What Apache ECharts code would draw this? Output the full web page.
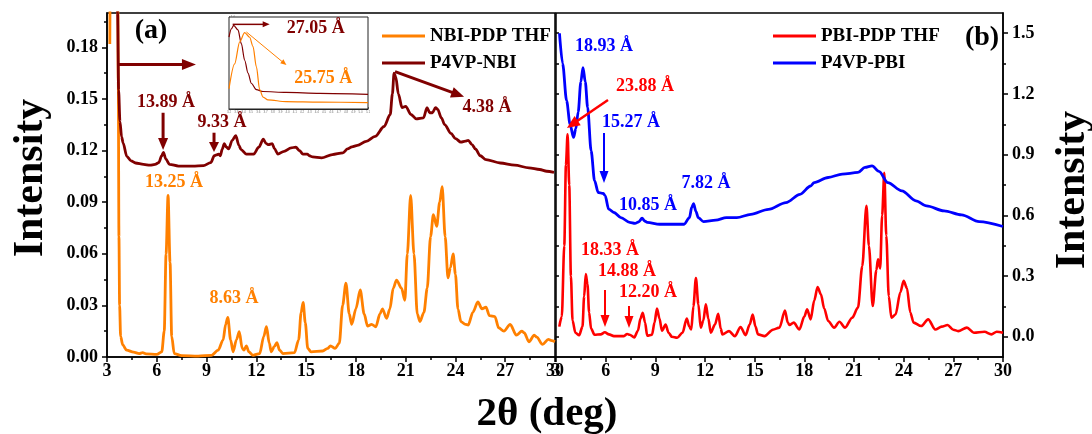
<!DOCTYPE html>
<html>
<head>
<meta charset="utf-8">
<script src="https://cdn.jsdelivr.net/npm/echarts@6/dist/echarts.min.js"></script>
<style>
  html, body { margin: 0; padding: 0; background: #fff; }
  #chart { width: 1092px; height: 434px; }
</style>
</head>
<body>
<div id="chart"></div>
<script>
// ---- Tick labels ----
const xTicks = [3, 6, 9, 12, 15, 18, 21, 24, 27, 30];
const leftYTicks = [0, 0.03, 0.06, 0.09, 0.12, 0.15, 0.18];
const leftYMinor = [0.015, 0.045, 0.075, 0.105, 0.135, 0.165, 0.195];
const rightYTicks = [0, 0.3, 0.6, 0.9, 1.2, 1.5];
const rightYMinor = [0.15, 0.45, 0.75, 1.05, 1.35];
const rightYMirror = [0, 0.15, 0.3, 0.45, 0.6, 0.75, 0.9, 1.05, 1.2, 1.35, 1.5];
const insetYTicks = [0, 0.1, 0.2, 0.3, 0.4, 0.5, 0.6, 0.7, 0.8, 0.9, 1.0];

// ---- Series values: [2θ (deg), intensity] ----
const nbiPdpThf = [
  [3.17,0.182],[3.25,0.30],[3.45,0.45],[3.62,0.30],[3.68,0.16],[3.72,0.07],[3.76,0.03],[3.82,0.012],
  [3.95,0.007],[4.18,0.004],[4.6,0.0028],[4.94,0.002],[5.15,0.0025],[5.35,0.0018],[6.0,0.0015],
  [6.3,0.003],[6.45,0.015],[6.56,0.06],[6.68,0.094],[6.8,0.055],[6.9,0.012],[7.05,0.002],[7.5,0.0008],
  [8.5,0.0005],[9.3,0.001],[9.7,0.004],[10.0,0.01],[10.15,0.019],[10.28,0.023],[10.45,0.01],[10.6,0.003],
  [10.8,0.01],[10.97,0.0147],[11.15,0.005],[11.25,0.004],[11.4,0.0065],[11.55,0.003],[11.8,0.001],
  [12.2,0.002],[12.45,0.012],[12.61,0.0176],[12.78,0.008],[12.9,0.003],[13.08,0.006],[13.24,0.0084],
  [13.4,0.004],[13.6,0.002],[14.3,0.0025],[14.55,0.01],[14.7,0.026],[14.82,0.0318],[14.95,0.02],
  [15.1,0.005],[15.3,0.003],[16.0,0.0035],[16.3,0.005],[16.47,0.0065],[16.75,0.005],[17.0,0.008],
  [17.2,0.03],[17.4,0.043],[17.6,0.025],[17.75,0.019],[18.0,0.028],[18.26,0.039],[18.5,0.025],
  [18.7,0.018],[18.95,0.019],[19.2,0.0176],[19.45,0.025],[19.6,0.028],[19.85,0.0225],[20.05,0.028],
  [20.25,0.04],[20.45,0.0447],[20.75,0.04],[20.95,0.033],[21.1,0.06],[21.3,0.094],[21.5,0.06],
  [21.7,0.025],[21.86,0.0206],[22.1,0.026],[22.3,0.04],[22.5,0.07],[22.67,0.0827],[22.87,0.076],
  [23.05,0.09],[23.2,0.099],[23.38,0.07],[23.55,0.046],[23.7,0.052],[23.86,0.060],[24.0,0.048],
  [24.15,0.028],[24.33,0.0206],[24.6,0.019],[24.77,0.0186],[25.05,0.026],[25.35,0.032],[25.6,0.028],
  [25.84,0.029],[26.05,0.024],[26.38,0.0235],[26.6,0.017],[26.92,0.015],[27.3,0.019],[27.67,0.0127],
  [28.0,0.015],[28.15,0.014],[28.43,0.0088],[28.75,0.0127],[28.9,0.0115],[29.25,0.0073],[29.6,0.0102],
  [29.8,0.0095],[30.0,0.0088]
];

const p4vpNbi = [
  [3.2,0.6],[3.45,0.45],[3.58,0.3],[3.64,0.2],[3.7,0.155],[3.78,0.137],[3.88,0.128],[3.97,0.1245],
  [4.19,0.1167],[4.45,0.114],[4.72,0.1128],[5.2,0.112],[5.59,0.1115],[5.9,0.112],[6.12,0.113],
  [6.3,0.117],[6.4,0.119],[6.55,0.115],[6.77,0.112],[7.31,0.111],[8.17,0.111],[8.82,0.1113],
  [9.25,0.113],[9.47,0.117],[9.6,0.1175],[9.72,0.118],[9.83,0.117],[9.95,0.121],[10.07,0.124],
  [10.2,0.122],[10.33,0.121],[10.55,0.126],[10.76,0.1287],[10.95,0.123],[11.08,0.1206],[11.4,0.118],
  [11.84,0.118],[12.15,0.122],[12.42,0.1266],[12.6,0.124],[12.74,0.1235],[12.96,0.124],[13.1,0.121],
  [13.3,0.118],[13.67,0.1196],[14.1,0.1216],[14.38,0.122],[14.6,0.12],[14.81,0.118],[15.07,0.118],
  [15.2,0.117],[15.39,0.1163],[15.93,0.1158],[16.58,0.1177],[17.22,0.1187],[17.5,0.121],[17.76,0.1222],
  [18.09,0.123],[18.62,0.1254],[19.16,0.1283],[19.7,0.134],[20.07,0.141],[20.2,0.153],[20.3,0.165],
  [20.4,0.163],[20.56,0.153],[20.78,0.145],[21.0,0.1457],[21.32,0.141],[21.64,0.1384],[22.07,0.139],
  [22.29,0.145],[22.45,0.142],[22.61,0.142],[22.8,0.145],[22.93,0.144],[23.15,0.139],[23.36,0.135],
  [23.73,0.130],[24.0,0.127],[24.33,0.1249],[24.6,0.1255],[24.77,0.126],[25.0,0.1235],[25.2,0.121],
  [25.5,0.117],[25.84,0.1148],[26.7,0.1128],[27.57,0.1115],[28.43,0.110],[29.08,0.109],[29.5,0.108],
  [29.94,0.1074]
];

const pbiPdpThf = [
  [3.2,0.05],[3.35,0.1],[3.5,0.45],[3.6,0.85],[3.7,1.0],[3.8,0.75],[3.9,0.3],[4.0,0.08],[4.17,0.02],
  [4.4,0.008],[4.6,0.05],[4.7,0.2],[4.8,0.31],[4.9,0.26],[5.0,0.12],[5.12,0.04],[5.33,0.01],[5.7,0.012],
  [5.95,0.022],[6.2,0.012],[6.5,0.003],[7.1,0.003],[7.3,0.014],[7.45,0.01],[7.73,-0.003],[7.95,0.03],
  [8.1,0.09],[8.24,0.119],[8.38,0.07],[8.51,0.005],[8.8,0.01],[8.95,0.07],[9.1,0.14],[9.25,0.09],
  [9.4,0.03],[9.62,0.06],[9.8,0.02],[10.0,0.0],[10.32,-0.005],[10.64,0.02],[10.9,0.09],[11.05,0.05],
  [11.17,0.036],[11.3,0.15],[11.45,0.29],[11.6,0.16],[11.74,0.045],[11.9,0.08],[12.05,0.16],[12.2,0.09],
  [12.35,0.02],[12.6,0.06],[12.8,0.114],[12.95,0.04],[13.05,0.012],[13.45,0.028],[13.8,0.003],
  [14.15,0.048],[14.45,0.008],[14.7,0.06],[14.88,0.11],[15.05,0.05],[15.2,0.012],[15.6,0.003],
  [16.1,0.035],[16.5,0.045],[16.83,0.13],[17.0,0.07],[17.1,0.058],[17.36,0.07],[17.7,0.036],[18.0,0.1],
  [18.17,0.136],[18.38,0.086],[18.6,0.18],[18.8,0.246],[19.0,0.21],[19.2,0.14],[19.44,0.078],
  [19.8,0.045],[20.12,0.074],[20.46,0.045],[20.89,0.094],[21.24,0.144],[21.5,0.35],[21.75,0.647],
  [21.9,0.45],[22.13,0.152],[22.35,0.33],[22.45,0.383],[22.58,0.338],[22.7,0.6],[22.83,0.81],
  [22.95,0.5],[23.1,0.2],[23.26,0.094],[23.51,0.11],[23.8,0.22],[24.0,0.276],[24.2,0.24],[24.4,0.12],
  [24.6,0.07],[25.06,0.053],[25.48,0.086],[25.91,0.036],[26.3,0.05],[26.65,0.058],[27.0,0.035],
  [27.29,0.028],[27.82,0.045],[28.24,0.02],[28.88,0.025],[29.3,0.012],[29.62,0.025],[30.0,0.02]
];

const p4vpPbi = [
  [3.21,1.5],[3.4,1.35],[3.64,1.167],[3.85,1.05],[4.06,0.985],[4.2,1.03],[4.34,1.11],[4.5,1.26],
  [4.63,1.33],[4.77,1.26],[4.91,1.134],[5.12,0.92],[5.33,0.771],[5.55,0.713],[5.86,0.708],[5.97,0.697],
  [6.18,0.631],[6.5,0.614],[6.92,0.589],[7.45,0.565],[7.77,0.56],[8.0,0.568],[8.2,0.586],[8.35,0.572],
  [8.51,0.565],[9.26,0.556],[10.1,0.556],[10.74,0.556],[11.06,0.589],[11.2,0.64],[11.31,0.658],
  [11.45,0.62],[11.59,0.589],[11.91,0.569],[12.65,0.576],[13.29,0.589],[13.92,0.589],[14.77,0.605],
  [15.83,0.63],[16.89,0.663],[17.74,0.704],[18.38,0.745],[18.59,0.762],[19.44,0.787],[20.29,0.804],
  [21.24,0.812],[21.66,0.837],[22.09,0.845],[22.51,0.817],[23.04,0.762],[23.89,0.721],[24.74,0.672],
  [25.38,0.647],[26.44,0.622],[27.5,0.602],[28.56,0.569],[30.0,0.545]
];

// Low-angle close-up (normalised intensity)
const insetP4vpNbi = [
  [3.2,0.78],[3.232,0.87],[3.264,0.91],[3.323,0.86],[3.369,0.71],[3.414,0.53],[3.46,0.39],
  [3.505,0.28],[3.574,0.21],[3.665,0.19],[3.98,0.18],[4.44,0.17],[5.1,0.16]
];
const insetNbiPdpThf = [
  [3.2,0.22],[3.277,0.49],[3.346,0.73],[3.414,0.83],[3.482,0.78],[3.528,0.68],[3.574,0.46],
  [3.619,0.21],[3.665,0.13],[3.733,0.10],[3.98,0.08],[4.44,0.075],[5.1,0.07]
];

// ---- Styling ----
const FONT = '"Liberation Serif", "Times New Roman", serif';
const ORANGE = '#FF8000';
const DARKRED = '#800000';
const RED = '#FF0000';
const BLUE = '#0000FF';
const BLACK = '#000';

const labelStyle = { fontFamily: FONT, fontWeight: 'bold', fontSize: 18, color: BLACK };

function xAxisFor(gridIndex) {
  return {
    gridIndex, type: 'value', min: 3, max: 30, interval: 3,
    axisLine: { show: true, onZero: false, lineStyle: { color: BLACK, width: 1.5 } },
    axisTick: { show: true, length: 5, lineStyle: { color: BLACK, width: 1.5 } },
    minorTick: { show: true, splitNumber: 2, length: 3, lineStyle: { color: BLACK, width: 1.5 } },
    splitLine: { show: false },
    axisLabel: Object.assign({ margin: 5 }, labelStyle)
  };
}

function tickOnlyAxis(gridIndex, min, max, position, values, inside) {
  return {
    gridIndex, type: 'value', min, max, position,
    axisLine: { show: false, onZero: false },
    axisTick: { show: true, inside: !!inside, length: 3, customValues: values, lineStyle: { color: BLACK, width: 1.5 } },
    axisLabel: { show: false },
    splitLine: { show: false }
  };
}

const lineSeries = (name, data, color, width, xIdx, yIdx) => ({
  name, type: 'line', data, xAxisIndex: xIdx, yAxisIndex: yIdx,
  showSymbol: false, symbol: 'none', smooth: 0.3, smoothMonotone: 'x',
  clip: true, lineStyle: { color, width }, itemStyle: { color }, z: 3
});

const legendText = { fontFamily: FONT, fontWeight: 'bold', fontSize: 19, color: BLACK, lineHeight: 20 };

const option = {
  animation: false,
  backgroundColor: '#fff',
  grid: [
    { left: 107, top: 13, width: 448, height: 344, show: true, borderColor: BLACK, borderWidth: 1.5 },
    { left: 556, top: 13, width: 447, height: 344, show: true, borderColor: BLACK, borderWidth: 1.5 },
    { left: 229, top: 17, width: 139, height: 92, show: true, borderColor: '#222', borderWidth: 1, backgroundColor: '#fff', z: 1 }
  ],
  legend: [
    {
      data: ['NBI-PDP THF', 'P4VP-NBI'], left: 377, top: 21, orient: 'vertical',
      icon: 'rect', itemWidth: 43, itemHeight: 3, itemGap: 7, selectedMode: false, textStyle: legendText
    },
    {
      data: ['PBI-PDP THF', 'P4VP-PBI'], left: 768, top: 21, orient: 'vertical',
      icon: 'rect', itemWidth: 43, itemHeight: 3, itemGap: 7, selectedMode: false, textStyle: legendText
    }
  ],
  xAxis: [
    xAxisFor(0),
    xAxisFor(1),
    {
      gridIndex: 2, type: 'value', min: 3.2, max: 5.1, interval: 0.1,
      axisLine: { show: true, onZero: false, lineStyle: { color: '#222', width: 1 } },
      axisTick: { show: true, inside: true, length: 2, lineStyle: { color: '#555', width: 0.8 } },
      splitLine: { show: false },
      axisLabel: { fontSize: 3, color: '#777', margin: 2, formatter: v => v.toFixed(1) }
    }
  ],
  yAxis: [
    {
      gridIndex: 0, type: 'value', min: 0, max: 0.2, position: 'left',
      axisLine: { show: true, onZero: false, lineStyle: { color: BLACK, width: 1.5 } },
      axisTick: { show: true, length: 5, customValues: leftYTicks, lineStyle: { color: BLACK, width: 1.5 } },
      axisLabel: Object.assign({ customValues: leftYTicks, margin: 9, formatter: v => v.toFixed(2) }, labelStyle),
      splitLine: { show: false }
    },
    tickOnlyAxis(0, 0, 0.2, 'left', leftYMinor, false),
    {
      gridIndex: 1, type: 'value', min: -0.1, max: 1.6, position: 'right',
      axisLine: { show: true, onZero: false, lineStyle: { color: BLACK, width: 1.5 } },
      axisTick: { show: true, length: 5, customValues: rightYTicks, lineStyle: { color: BLACK, width: 1.5 } },
      axisLabel: Object.assign({ customValues: rightYTicks, margin: 9, formatter: v => v.toFixed(1) }, labelStyle),
      splitLine: { show: false }
    },
    tickOnlyAxis(1, -0.1, 1.6, 'right', rightYMinor, false),
    tickOnlyAxis(1, -0.1, 1.6, 'left', rightYMirror, true),
    {
      gridIndex: 2, type: 'value', min: 0, max: 1.0, position: 'left',
      axisLine: { show: true, onZero: false, lineStyle: { color: '#222', width: 1 } },
      axisTick: { show: true, inside: true, length: 2, customValues: insetYTicks, lineStyle: { color: '#555', width: 0.8 } },
      axisLabel: { inside: true, customValues: insetYTicks, fontSize: 3, color: '#777', margin: 2, formatter: v => v.toFixed(1) },
      splitLine: { show: false }
    }
  ],
  series: [
    lineSeries('NBI-PDP THF', nbiPdpThf, ORANGE, 2.8, 0, 0),
    lineSeries('P4VP-NBI', p4vpNbi, DARKRED, 2.8, 0, 0),
    lineSeries('PBI-PDP THF', pbiPdpThf, RED, 2.6, 1, 2),
    lineSeries('P4VP-PBI', p4vpPbi, BLUE, 2.8, 1, 2),
    Object.assign(lineSeries('P4VP-NBI (low angle)', insetP4vpNbi, DARKRED, 1.2, 2, 5), { z: 5 }),
    Object.assign(lineSeries('NBI-PDP THF (low angle)', insetNbiPdpThf, ORANGE, 1.2, 2, 5), { z: 5 })
  ]
};

const chart = echarts.init(document.getElementById('chart'), null, { renderer: 'canvas' });
chart.setOption(option);

// ---- Annotations (d-spacings), placed in data coordinates of each panel ----
// panel: seriesIndex used to locate the coordinate system
const PANEL = { a: 0, b: 2, inset: 4 };

const notes = [
  { panel: 'a', text: '13.89 Å', at: [6.56, 0.148], color: DARKRED, size: 18 },
  { panel: 'a', text: '9.33 Å', at: [9.93, 0.1366], color: DARKRED, size: 18 },
  { panel: 'a', text: '4.38 Å', at: [25.9, 0.145], color: DARKRED, size: 18 },
  { panel: 'a', text: '13.25 Å', at: [7.04, 0.1013], color: ORANGE, size: 18 },
  { panel: 'a', text: '8.63 Å', at: [10.65, 0.0343], color: ORANGE, size: 18 },
  { panel: 'inset', text: '27.05 Å', at: [4.385, 0.88], color: DARKRED, size: 18 },
  { panel: 'inset', text: '25.75 Å', at: [4.488, 0.336], color: ORANGE, size: 18 },
  { panel: 'b', text: '18.93 Å', at: [5.90, 1.437], color: BLUE, size: 18 },
  { panel: 'b', text: '23.88 Å', at: [8.38, 1.239], color: RED, size: 18 },
  { panel: 'b', text: '15.27 Å', at: [7.53, 1.061], color: BLUE, size: 18 },
  { panel: 'b', text: '7.82 Å', at: [12.06, 0.76], color: BLUE, size: 18 },
  { panel: 'b', text: '10.85 Å', at: [8.56, 0.651], color: BLUE, size: 18 },
  { panel: 'b', text: '18.33 Å', at: [6.26, 0.429], color: RED, size: 18 },
  { panel: 'b', text: '14.88 Å', at: [7.29, 0.325], color: RED, size: 18 },
  { panel: 'b', text: '12.20 Å', at: [8.56, 0.221], color: RED, size: 18 }
];

const arrows = [
  { panel: 'a', from: [3.66, 0.170], to: [8.36, 0.170], color: DARKRED, width: 3, head: [14, 11] },
  { panel: 'a', from: [6.38, 0.142], to: [6.38, 0.1203], color: DARKRED, width: 3, head: [12, 10] },
  { panel: 'a', from: [9.45, 0.1304], to: [9.45, 0.1192], color: DARKRED, width: 3, head: [10, 10] },
  { panel: 'a', from: [20.36, 0.1659], to: [24.52, 0.1513], color: DARKRED, width: 3, head: [13, 11] },
  { panel: 'inset', from: [3.25, 0.92], to: [3.756, 0.92], color: DARKRED, width: 1.5, head: [7, 6] },
  { panel: 'inset', from: [3.438, 0.837], to: [3.985, 0.477], color: ORANGE, width: 1, head: [6, 5] },
  { panel: 'b', from: [6.14, 1.17], to: [3.66, 1.032], color: RED, width: 2.5, head: [13, 11] },
  { panel: 'b', from: [5.9, 1.007], to: [5.9, 0.76], color: BLUE, width: 2, head: [12, 9] },
  { panel: 'b', from: [5.96, 0.231], to: [5.96, 0.048], color: RED, width: 2, head: [12, 9] },
  { panel: 'b', from: [7.41, 0.152], to: [7.41, 0.043], color: RED, width: 2, head: [12, 9] }
];

function px(panel, pt) {
  return chart.convertToPixel({ seriesIndex: PANEL[panel] }, pt);
}

function arrowShapes(p1, p2, color, width, headLen, headW) {
  const dx = p2[0] - p1[0], dy = p2[1] - p1[1];
  const L = Math.hypot(dx, dy) || 1;
  const ux = dx / L, uy = dy / L;
  const bx = p2[0] - ux * headLen, by = p2[1] - uy * headLen;
  const nx = -uy, ny = ux;
  return [
    { type: 'line', z: 100, shape: { x1: p1[0], y1: p1[1], x2: bx + ux * 1, y2: by + uy * 1 },
      style: { stroke: color, lineWidth: width } },
    { type: 'polygon', z: 100,
      shape: { points: [[p2[0], p2[1]], [bx + nx * headW / 2, by + ny * headW / 2], [bx - nx * headW / 2, by - ny * headW / 2]] },
      style: { fill: color } }
  ];
}

const graphics = [];
notes.forEach(n => {
  const p = px(n.panel, n.at);
  graphics.push({
    type: 'text', x: p[0], y: p[1], z: 100,
    style: { text: n.text, fill: n.color, font: 'bold ' + n.size + 'px ' + FONT, textAlign: 'center', textVerticalAlign: 'middle' }
  });
});
arrows.forEach(a => {
  arrowShapes(px(a.panel, a.from), px(a.panel, a.to), a.color, a.width, a.head[0], a.head[1]).forEach(g => graphics.push(g));
});

// Panel tags and axis titles
graphics.push(
  { type: 'text', x: 151, y: 31, z: 100, style: { text: '(a)', fill: BLACK, font: 'bold 28px ' + FONT, textAlign: 'center', textVerticalAlign: 'middle' } },
  { type: 'text', x: 982, y: 38, z: 100, style: { text: '(b)', fill: BLACK, font: 'bold 28px ' + FONT, textAlign: 'center', textVerticalAlign: 'middle' } },
  { type: 'text', x: 547, y: 414, z: 100, style: { text: '2θ (deg)', fill: BLACK, font: 'bold 41px ' + FONT, textAlign: 'center', textVerticalAlign: 'middle' } },
  { type: 'text', x: 31, y: 178, rotation: Math.PI / 2, z: 100, style: { text: 'Intensity', fill: BLACK, font: 'bold 42px ' + FONT, textAlign: 'center', textVerticalAlign: 'middle' } },
  { type: 'text', x: 1073, y: 190, rotation: Math.PI / 2, z: 100, style: { text: 'Intensity', fill: BLACK, font: 'bold 42px ' + FONT, textAlign: 'center', textVerticalAlign: 'middle' } }
);

chart.setOption({ graphic: graphics });
</script>
</body>
</html>
